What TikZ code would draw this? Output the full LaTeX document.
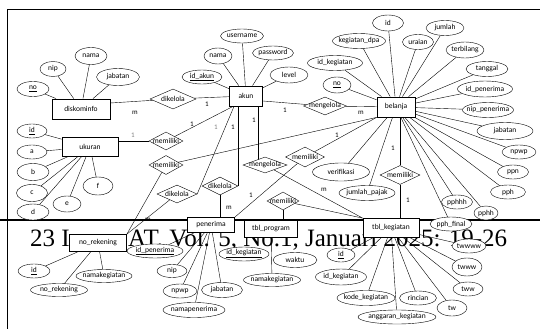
\documentclass[tikz,border=0pt]{standalone}
\usepackage{fontspec}
\setmainfont{Carlito}
\newfontfamily\hdrfont{Liberation Serif}
\usetikzlibrary{shapes.geometric}
\pgfdeclarelayer{back}
\pgfdeclarelayer{links}
\pgfsetlayers{back,links,main}

\newcommand{\erlbl}[1]{\makebox[0pt]{#1}}

\begin{document}
\begin{tikzpicture}[x=1pt, y=-1pt, line width=0.6pt,
    every node/.style={font=\fontsize{7.5}{8}\selectfont, inner sep=0pt}]

  \tikzset{ent/.style 2 args={draw, fill=white, line width=0.8pt,
      minimum width=#1, minimum height=#2},
    att/.style 2 args={ellipse, draw, fill=white, minimum width=#1,
      minimum height=#2},
    rel/.style 2 args={diamond, draw, fill=white, minimum width=#1,
      minimum height=#2}}
  \tikzstyle{card}=[font=\fontsize{7}{8}\selectfont]

  \useasboundingbox (0,0) rectangle (540,329);

  % page frame and header line
  \begin{pgfonlayer}{back}
    \draw[line width=0.8pt] (540,9) -- (7,9) -- (7,329);
    \draw[line width=2.2pt] (0,220) -- (540,220);
    \node[anchor=base west, font=\hdrfont\fontsize{25}{25}\selectfont]
      (hdra) at (30,246) {23 I};
    \node[anchor=base west, font=\hdrfont\fontsize{25}{25}\selectfont]
      (hdrb) at (128,246) {AT. Vol. 5, No.1, Januari 2025: 19-26};
  \end{pgfonlayer}

  % entities
  \node[ent={58}{20}] (diskominfo) at (81,109) {diskominfo};
  \node[ent={33}{20}] (akun) at (246,96) {akun};
  \node[ent={38}{20}] (belanja) at (396,107) {belanja};
  \node[ent={56}{19}] (ukuran) at (90,147) {ukuran};
  \node[ent={47}{15}] (penerima) at (211,225) {penerima};
  \node[ent={53}{17}] (tblprogram) at (271,229) {tbl\_program};
  \node[ent={56}{19}] (tblkegiatan) at (391,228) {tbl\_kegiatan};
  \node[ent={57}{17}] (norekening) at (98,243) {no\_rekening};

  % relations
  \node[rel={46}{20}] (dk1) at (173,99) {\erlbl{dikelola}};
  \node[rel={43}{18}] (mg1) at (325,106) {\erlbl{mengelola}};
  \node[rel={34}{18}] (mm1) at (166,141) {\erlbl{memiliki}};
  \node[rel={34}{19}] (mm2) at (166,165) {\erlbl{memiliki}};
  \node[rel={40}{18}] (dk2) at (177,194) {\erlbl{dikelola}};
  \node[rel={36}{18}] (dk3) at (220,186) {\erlbl{dikelola}};
  \node[rel={44}{16}] (mg2) at (265,165) {\erlbl{mengelola}};
  \node[rel={39}{20}] (mm3) at (305,157) {\erlbl{memiliki}};
  \node[rel={32}{18}] (mm4) at (283,201) {\erlbl{memiliki}};
  \node[rel={40}{19}] (mm5) at (400,175) {\erlbl{memiliki}};

  % attributes of diskominfo
  \node[att={32}{15}] (dno) at (33,89) {\erlbl{\underline{no}}};
  \node[att={26}{15}] (dnip) at (53,69) {\erlbl{nip}};
  \node[att={32}{17}] (dnama) at (91,56) {\erlbl{nama}};
  \node[att={43}{17}] (djab) at (118,77) {\erlbl{jabatan}};

  % attributes of akun
  \node[att={40}{14}] (aid) at (202,77) {\erlbl{\underline{id\_akun}}};
  \node[att={28}{16}] (anama) at (218,56) {\erlbl{nama}};
  \node[att={43}{14}] (auser) at (242,36) {\erlbl{username}};
  \node[att={41}{14}] (apass) at (273,53) {\erlbl{password}};
  \node[att={38}{16}] (alevel) at (289,75) {\erlbl{level}};

  % attributes of belanja
  \node[att={31}{16}] (bid) at (388,23) {\erlbl{id}};
  \node[att={53}{15}] (bdpa) at (359,41) {\erlbl{kegiatan\_dpa}};
  \node[att={31}{15}] (bur) at (418,42) {\erlbl{uraian}};
  \node[att={38}{15}] (bjml) at (445,28) {\erlbl{jumlah}};
  \node[att={38}{16}] (bterb) at (465,50) {\erlbl{terbilang}};
  \node[att={42}{15}] (btgl) at (487,69) {\erlbl{tanggal}};
  \node[att={55}{16}] (bidp) at (485,89) {\erlbl{id\_penerima}};
  \node[att={51}{15}] (bnipp) at (488,110) {\erlbl{nip\_penerima}};
  \node[att={55}{15}] (bidk) at (335,63) {\erlbl{id\_kegiatan}};
  \node[att={28}{16}] (bno) at (337,85) {\erlbl{\underline{no}}};
  \node[att={56}{17}] (bjab) at (505,131) {\erlbl{jabatan}};
  \node[att={34}{14}] (bnpwp) at (519,152) {\erlbl{npwp}};
  \node[att={31}{14}] (bppn) at (513,172) {\erlbl{ppn}};
  \node[att={35}{14}] (bpph) at (508,192) {\erlbl{pph}};
  \node[att={31}{14}] (bpphhh) at (457,202) {\erlbl{pphhh}};
  \node[att={24}{14}] (bpphh) at (486,213) {\erlbl{pphh}};
  \node[att={42}{14}] (bfin) at (451,224) {\erlbl{pph\_final}};
  \node[att={57}{18}] (bver) at (341,172) {\erlbl{verifikasi}};
  \node[att={56}{15}] (bjp) at (367,193) {\erlbl{jumlah\_pajak}};

  % attributes of ukuran
  \node[att={30}{14}] (uid) at (32,131) {\erlbl{\underline{id}}};
  \node[att={30}{14}] (ua) at (32,152) {\erlbl{a}};
  \node[att={32}{17}] (ub) at (33,172) {\erlbl{b}};
  \node[att={31}{17}] (uc) at (32,193) {\erlbl{c}};
  \node[att={32}{16}] (ud) at (33,212) {\erlbl{d}};
  \node[att={28}{16}] (ue) at (67,204) {\erlbl{e}};
  \node[att={30}{18}] (uf) at (98,186) {\erlbl{f}};

  % attributes of tbl_kegiatan
  \node[att={28}{14}] (kid) at (341,255) {\erlbl{\underline{id}}};
  \node[att={51}{16}] (kidk) at (341,277) {\erlbl{id\_kegiatan}};
  \node[att={58}{15}] (kkode) at (366,298) {\erlbl{kode\_kegiatan}};
  \node[att={78}{14}] (kang) at (397,317) {\erlbl{anggaran\_kegiatan}};
  \node[att={37}{14}] (krin) at (418,298) {\erlbl{rincian}};
  \node[att={30}{16}] (ktw) at (452,308) {\erlbl{tw}};
  \node[att={30}{14}] (ktww) at (468,289) {\erlbl{tww}};
  \node[att={30}{18}] (ktwww) at (467,267) {\erlbl{twww}};
  \node[att={34}{14}] (ktwwww) at (469,246) {\erlbl{twwww}};

  % attributes of tbl_program
  \node[att={50}{14}] (pidk) at (244,254) {\erlbl{\underline{id\_kegiatan}}};
  \node[att={44}{15}] (pwaktu) at (295,260) {\erlbl{waktu}};
  \node[att={57}{13}] (pnama) at (272,280) {\erlbl{namakegiatan}};

  % attributes of penerima
  \node[att={56}{14}] (eidp) at (155,251) {\erlbl{\underline{id\_penerima}}};
  \node[att={30}{13}] (enip) at (172,271) {\erlbl{nip}};
  \node[att={34}{14}] (enpwp) at (180,291) {\erlbl{npwp}};
  \node[att={62}{15}] (enama) at (194,310) {\erlbl{namapenerima}};
  \node[att={41}{15}] (ejab) at (222,290) {\erlbl{jabatan}};

  % attributes of no_rekening
  \node[att={32}{14}] (rid) at (34,271) {\erlbl{\underline{id}}};
  \node[att={56}{13}] (rnama) at (104,276) {\erlbl{namakegiatan}};
  \node[att={57}{13}] (rno) at (59,290) {\erlbl{no\_rekening}};

  % cardinalities
  \node[card] (c1) at (135,113) {m};
  \node[card] (c2) at (207,104) {1};
  \node[card] (c3) at (285,110) {1};
  \node[card] (c4) at (361,113) {m};
  \node[card, text=gray] (c5) at (133,135) {1};
  \node[card] (c6) at (192,124) {1};
  \node[card, text=gray] (c7) at (216,127) {1};
  \node[card] (c8) at (233,127) {1};
  \node[card] (c9) at (254,120) {1};
  \node[card] (c10) at (337,135) {1};
  \node[card] (c11) at (324,190) {m};
  \node[card] (c12) at (251,195) {1};
  \node[card] (c13) at (229,208) {m};
  \node[card] (c14) at (148,220) {m};
  \node[card] (c15) at (393,148) {1};
  \node[card] (c16) at (408,200) {1};

  \begin{pgfonlayer}{links}
    \foreach \a in {dno,dnip,dnama,djab} \draw (diskominfo) -- (\a);
    \foreach \a in {aid,anama,auser,apass,alevel} \draw (akun) -- (\a);
    \foreach \a in {bid,bdpa,bur,bjml,bterb,btgl,bidp,bnipp,bidk,bno,bjab,
      bnpwp,bppn,bpph,bpphhh,bpphh,bfin,bver,bjp} \draw (belanja) -- (\a);
    \foreach \a in {uid,ua,ub,uc,ud,ue,uf} \draw (ukuran) -- (\a);
    \foreach \a in {kid,kidk,kkode,kang,krin,ktw,ktww,ktwww,ktwwww}
      \draw (tblkegiatan) -- (\a);
    \draw (tblprogram) -- (pnama);
    \foreach \a in {eidp,enip,enpwp,enama,ejab} \draw (penerima) -- (\a);
    \foreach \a in {rid,rnama,rno} \draw (norekening) -- (\a);

    % relationship lines
    \draw ([yshift=6]diskominfo.east) -- (dk1);
    \draw (dk1) -- (akun);
    \draw ([yshift=-5]akun.east) -- (mg1);
    \draw (mg1) -- (belanja);
    \draw (mm1 -| ukuran.east) -- (mm1);
    \draw ([xshift=-13]akun.south) -- (mm1);
    \draw ([xshift=-12]akun.south) -- (dk2.east);
    \draw (akun.south -| dk3.east) -- (dk3.east);
    \draw ([xshift=12]akun.south) -- ([xshift=12]akun.south |- mg2.center);
    \draw (belanja.south west) -- (mm2);
    \draw (belanja.south west) -- (mm3);
    \draw (dk2) -- (norekening.north east);
    \draw (mm2) -- (norekening.north east);
    \draw (dk3) -- (dk3 |- penerima.north);
    \draw (mm3) -- (penerima.north east);
    \draw (mg2) -- (tblkegiatan.north west);
    \draw (mm4) -- (tblkegiatan.north west);
    \draw (mm4) -- (mm4 |- tblprogram.north);
    \draw (mm5) -- (mm5 |- belanja.south);
    \draw (mm5) -- (mm5 |- tblkegiatan.north);
  \end{pgfonlayer}
\end{tikzpicture}
\end{document}
